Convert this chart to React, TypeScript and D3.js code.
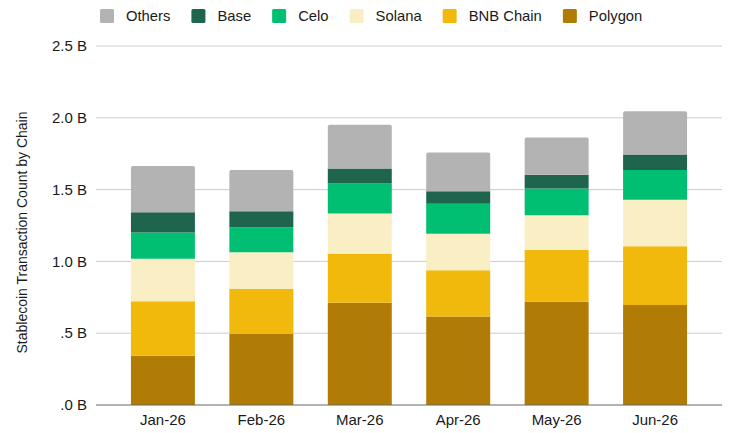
import * as d3 from "d3";
import { useEffect, useRef } from "react";

// Months on the x axis
const months = ["Jan-26", "Feb-26", "Mar-26", "Apr-26", "May-26", "Jun-26"];

// Transaction counts per chain, in billions (stack order bottom -> top)
const polygon = [0.343, 0.496, 0.712, 0.617, 0.719, 0.696];
const bnbChain = [0.379, 0.313, 0.341, 0.322, 0.36, 0.41];
const solana = [0.296, 0.254, 0.281, 0.253, 0.243, 0.323];
const celo = [0.184, 0.174, 0.209, 0.209, 0.186, 0.208];
const base = [0.141, 0.113, 0.104, 0.088, 0.095, 0.108];
const others = [0.322, 0.287, 0.304, 0.27, 0.26, 0.301];

const yTicks = [0, 0.5, 1, 1.5, 2, 2.5];
const yTickLabels = [".0 B", ".5 B", "1.0 B", "1.5 B", "2.0 B", "2.5 B"];

const seriesKeys = ["Polygon", "BNB Chain", "Solana", "Celo", "Base", "Others"];
const seriesValues = [polygon, bnbChain, solana, celo, base, others];
const seriesColors = ["#b07c06", "#f0b90b", "#faefc4", "#00bf73", "#1f654d", "#b3b3b3"];

// legend runs left -> right in reverse stack order
const legendKeys = ["Others", "Base", "Celo", "Solana", "BNB Chain", "Polygon"];

const width = 733;
const height = 433;
const font = "'Liberation Sans', Arial, sans-serif";
const textColor = "#1a1a1a";

export default function App() {
  const svgRef = useRef<SVGSVGElement | null>(null);

  useEffect(() => {
    const svg = d3.select(svgRef.current);
    svg.selectAll("*").remove();

    const margin = { top: 46, right: 11, bottom: 28, left: 96 };

    const xScale = d3
      .scaleBand<string>()
      .domain(months)
      .range([margin.left, width - margin.right])
      .paddingInner(0.35)
      .paddingOuter(0.355);

    const yScale = d3
      .scaleLinear()
      .domain([0, 2.5])
      .range([height - margin.bottom, margin.top]);

    const color = d3.scaleOrdinal<string, string>().domain(seriesKeys).range(seriesColors);

    // Build rows for d3.stack
    const rows = months.map((m, i) => {
      const row: Record<string, number | string> = { month: m };
      seriesKeys.forEach((k, j) => (row[k] = seriesValues[j][i]));
      return row;
    });
    const stacked = d3.stack<Record<string, number | string>>().keys(seriesKeys)(rows as any);

    // Gridlines
    svg
      .append("g")
      .selectAll("line")
      .data(yTicks.slice(1))
      .enter()
      .append("line")
      .attr("x1", margin.left)
      .attr("x2", width - margin.right)
      .attr("y1", (d) => yScale(d))
      .attr("y2", (d) => yScale(d))
      .attr("stroke", "#cccccc")
      .attr("stroke-width", 1);

    // Y tick labels
    svg
      .append("g")
      .selectAll("text")
      .data(yTicks)
      .enter()
      .append("text")
      .attr("x", margin.left - 9)
      .attr("y", (d) => yScale(d))
      .attr("dy", "0.35em")
      .attr("text-anchor", "end")
      .attr("font-family", font)
      .attr("font-size", 15)
      .attr("fill", textColor)
      .text((d, i) => yTickLabels[i]);

    // Bars
    const r = 2;
    const lastIdx = seriesKeys.length - 1;
    stacked.forEach((layer, li) => {
      svg
        .append("g")
        .attr("fill", color(layer.key))
        .selectAll("path")
        .data(layer)
        .enter()
        .append("path")
        .attr("d", (d) => {
          const x0 = xScale(d.data.month as string) ?? 0;
          const x1 = x0 + xScale.bandwidth();
          const yTop = yScale(d[1]);
          const yBot = yScale(d[0]);
          if (li !== lastIdx) return `M${x0},${yBot}V${yTop}H${x1}V${yBot}Z`;
          return `M${x0},${yBot}V${yTop + r}Q${x0},${yTop} ${x0 + r},${yTop}H${x1 - r}Q${x1},${yTop} ${x1},${yTop + r}V${yBot}Z`;
        });
    });

    // Baseline
    svg
      .append("line")
      .attr("x1", margin.left)
      .attr("x2", width - margin.right)
      .attr("y1", yScale(0))
      .attr("y2", yScale(0))
      .attr("stroke", "#666")
      .attr("stroke-width", 1.2);

    // X labels
    svg
      .append("g")
      .selectAll("text")
      .data(months)
      .enter()
      .append("text")
      .attr("x", (d) => (xScale(d) ?? 0) + xScale.bandwidth() / 2)
      .attr("y", yScale(0) + 15)
      .attr("dy", "0.35em")
      .attr("text-anchor", "middle")
      .attr("font-family", font)
      .attr("font-size", 15)
      .attr("fill", textColor)
      .text((d) => d);

    // Y axis title
    svg
      .append("text")
      .attr("transform", `translate(22,${(margin.top + yScale(0)) / 2 + 7}) rotate(-90)`)
      .attr("dy", "0.35em")
      .attr("text-anchor", "middle")
      .attr("font-family", font)
      .attr("font-size", 14)
      .attr("fill", textColor)
      .text("Stablecoin Transaction Count by Chain");

    // Legend
    const legend = svg.append("g");
    let lx = 100;
    legendKeys.forEach((k) => {
      const item = legend.append("g").attr("transform", `translate(${lx},9)`);
      item
        .append("rect")
        .attr("width", 14)
        .attr("height", 14)
        .attr("rx", 1.5)
        .attr("fill", color(k));
      const t = item
        .append("text")
        .attr("x", 26)
        .attr("y", 7)
        .attr("dy", "0.35em")
        .attr("font-family", font)
        .attr("font-size", 14.8)
        .attr("fill", textColor)
        .text(k);
      const w = (t.node() as SVGTextElement).getComputedTextLength();
      lx += 26 + w + 21;
    });
  }, []);

  return (
    <svg
      ref={svgRef}
      width={width}
      height={height}
      style={{ position: "absolute", left: 0, top: 0, background: "#fff" }}
    ></svg>
  );
}
